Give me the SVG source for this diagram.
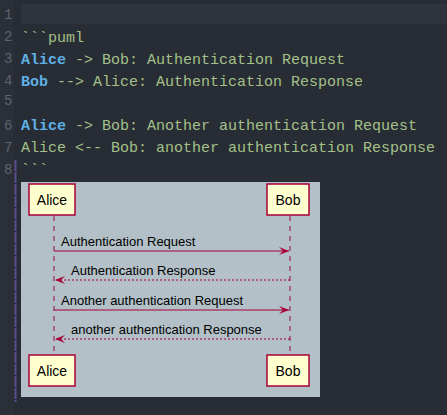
<svg xmlns="http://www.w3.org/2000/svg" width="447" height="415" viewBox="0 0 447 415">
<style>
.code{font-family:"Liberation Mono","DejaVu Sans Mono",monospace;font-size:15px;fill:#a3c08a}
.kw{fill:#5eb0e5;font-weight:bold}
.ln{font-family:"Liberation Mono","DejaVu Sans Mono",monospace;font-size:14px;fill:#5d6470}
.part rect{fill:#fefece;stroke:#a80036;stroke-width:1.5}
.part text{font-family:"Liberation Sans",Arial,sans-serif;font-size:14px;fill:#000;text-anchor:middle}
.life{stroke:#a0457a;stroke-width:1.5;stroke-dasharray:5,5;fill:none}
.msg{stroke:#a80036;stroke-width:1;fill:none}
.dash{stroke-dasharray:2,2}
.lbl{font-family:"Liberation Sans",Arial,sans-serif;font-size:13px;fill:#000}
</style>
<defs>
<marker id="ah" markerWidth="12" markerHeight="10" refX="10" refY="4" orient="auto" markerUnits="userSpaceOnUse">
<polygon points="0,0 10,4 0,8 4,4" fill="#a80036"/>
</marker>
</defs>
<rect x="0" y="0" width="447" height="415" fill="#282c34"/>
<rect x="0" y="0" width="14" height="415" fill="#2b2f37"/>
<rect x="21" y="4" width="426" height="20" fill="#2e333c"/>
<g id="gutter">
<text class="ln" x="4" y="19">1</text>
<text class="ln" x="4" y="41">2</text>
<text class="ln" x="4" y="63">3</text>
<text class="ln" x="4" y="85">4</text>
<text class="ln" x="4" y="105">5</text>
<text class="ln" x="4" y="130">6</text>
<text class="ln" x="4" y="152">7</text>
<text class="ln" x="4" y="174">8</text>
<line x1="15.5" y1="160" x2="15.5" y2="402" stroke="#5b4f90" stroke-width="2" stroke-dasharray="11,1"/>
</g>
<g id="code">
<text class="code" x="21" y="42">```puml</text>
<text class="code" x="21" y="64"><tspan class="kw">Alice</tspan> -&gt; Bob: Authentication Request</text>
<text class="code" x="21" y="86"><tspan class="kw">Bob</tspan> --&gt; Alice: Authentication Response</text>
<text class="code" x="21" y="130"><tspan class="kw">Alice</tspan> -&gt; Bob: Another authentication Request</text>
<text class="code" x="21" y="152">Alice &lt;-- Bob: another authentication Response</text>
<text class="code" x="21" y="174">```</text>
</g>
<rect x="21" y="182" width="299" height="215" fill="#b3c0c7"/>
<g id="lifelines">
<line class="life" x1="54" y1="216" x2="54" y2="355"/>
<line class="life" x1="290" y1="216" x2="290" y2="355"/>
</g>
<g id="alice-top" class="part"><rect x="29" y="184" width="46" height="31"/><text x="52" y="205">Alice</text></g>
<g id="bob-top" class="part"><rect x="267" y="184" width="42" height="31"/><text x="288" y="205">Bob</text></g>
<g id="alice-bottom" class="part"><rect x="29" y="355" width="46" height="31"/><text x="52" y="376">Alice</text></g>
<g id="bob-bottom" class="part"><rect x="267" y="355" width="42" height="31"/><text x="288" y="376">Bob</text></g>
<g id="connectors">
<line class="msg" x1="54" y1="251" x2="289" y2="251" marker-end="url(#ah)"/>
<line class="msg dash" x1="290" y1="280" x2="55" y2="280" marker-end="url(#ah)"/>
<line class="msg" x1="54" y1="310" x2="289" y2="310" marker-end="url(#ah)"/>
<line class="msg dash" x1="290" y1="339" x2="55" y2="339" marker-end="url(#ah)"/>
</g>
<g id="labels">
<text class="lbl" x="61" y="246">Authentication Request</text>
<text class="lbl" x="71" y="275">Authentication Response</text>
<text class="lbl" x="61" y="305">Another authentication Request</text>
<text class="lbl" x="71" y="334">another authentication Response</text>
</g>
</svg>
